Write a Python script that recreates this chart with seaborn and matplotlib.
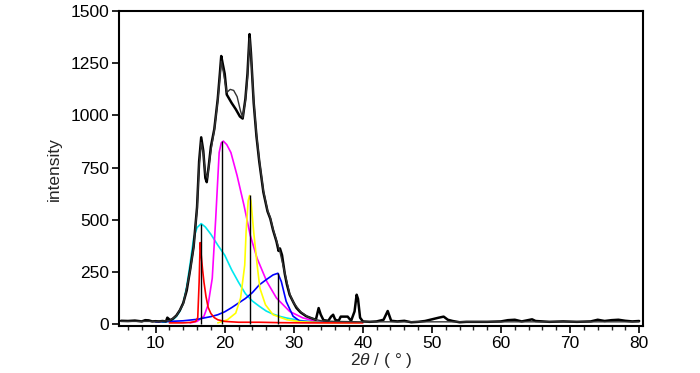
import numpy as np
import pandas as pd
import matplotlib
matplotlib.use("Agg")
import matplotlib.pyplot as plt
from matplotlib.ticker import MultipleLocator
import seaborn as sns

# -----------------------------
# DATA
# -----------------------------
obs_x = [5, 6, 7, 8, 8.5, 9, 9.5, 10, 10.5, 11, 11.5, 11.7, 12.1, 12.5, 13, 13.5, 14, 14.5,
         15, 15.5, 16, 16.3, 16.6, 16.9, 17.2, 17.4, 17.7, 18.0, 18.5, 19.0, 19.3, 19.5,
         19.7, 20.0, 20.3, 21.0, 21.6, 22.2, 22.6, 23.0, 23.3, 23.6, 23.8, 24.2, 24.6, 25.0,
         25.6, 26.2, 26.6, 27.0, 27.5, 27.8, 28.0, 28.3, 28.7, 29.0, 29.4, 30.0, 30.4, 31.0,
         31.8, 32.5, 33.2, 33.6, 33.9, 34.3, 35.0, 35.4, 35.7, 36.0, 36.5, 36.8, 37.8, 38.3,
         38.8, 39.1, 39.3, 39.6, 40, 41, 42, 43, 43.6, 44.1, 45, 46, 47, 48, 49, 50, 51,
         51.7, 52.3, 53, 54, 55, 58, 60, 61, 62, 63, 64.5, 65, 67, 69, 71, 73, 74, 75, 76,
         77, 78, 79, 80]
obs_y = [15, 14, 16, 12, 18, 17, 12, 13, 12, 14, 12, 30, 18, 25, 40, 65, 100, 160,
         260, 370, 560, 780, 895, 830, 700, 680, 760, 850, 935, 1080, 1200, 1285,
         1250, 1200, 1100, 1060, 1030, 995, 985, 1080, 1200, 1390, 1300, 1060, 900, 780,
         632, 540, 505, 450, 395, 350, 362, 330, 240, 190, 140, 100, 76, 55,
         37, 28, 20, 76, 45, 18, 15, 35, 44, 20, 15, 35, 35, 15,
         60, 140, 120, 30, 12, 10, 12, 20, 62, 15, 12, 15, 8, 10, 14, 22, 30,
         35, 20, 14, 8, 10, 10, 12, 18, 20, 12, 22, 14, 10, 12, 10, 12, 20, 14, 18,
         20, 15, 12, 14]

fit_x = [5, 10, 12, 13, 14, 15, 15.5, 16, 16.3, 16.6, 16.9, 17.2, 17.5, 18, 18.5, 19, 19.3,
         19.5, 19.8, 20.3, 20.8, 21.3, 21.8, 22.3, 22.6, 23, 23.3, 23.6, 23.8, 24.2, 24.6,
         25, 25.6, 26.2, 26.6, 27, 27.5, 28, 28.7, 29.4, 30, 31, 32, 33, 34, 36, 40, 50, 80]
fit_y = [12, 12, 15, 38, 95, 255, 365, 550, 760, 870, 820, 720, 700, 830, 930, 1070, 1180,
         1260, 1210, 1110, 1125, 1120, 1090, 1020, 990, 1070, 1180, 1370, 1290, 1070, 910,
         790, 640, 545, 510, 455, 400, 345, 245, 145, 100, 58, 35, 22, 15, 12, 10, 10, 10]

red_x = [12, 14, 15, 15.8, 16.1, 16.3, 16.45, 16.6, 16.8, 17.0, 17.3, 17.6, 18, 18.5, 19, 20,
         22, 25, 28, 32, 36, 40]
red_y = [5, 5, 7, 12, 30, 200, 390, 330, 260, 200, 130, 80, 50, 30, 20, 12, 8, 8, 6, 5, 5, 5]

cyan_x = [11, 12, 12.5, 13, 13.5, 14, 14.5, 15, 15.5, 16, 16.6, 17.2, 18, 19, 20, 21, 22, 23,
          24, 25, 26, 27, 28, 29, 30, 31, 32, 34, 36, 38]
cyan_y = [8, 12, 20, 35, 60, 100, 180, 290, 410, 462, 481, 465, 430, 378, 330, 260, 200, 145,
          110, 85, 62, 47, 36, 28, 22, 16, 12, 9, 8, 8]

magenta_x = [15, 16, 17, 17.6, 18.2, 18.7, 19.2, 19.5, 19.8, 20.3, 20.9, 21.8, 22.8, 23.7,
             24.7, 26.1, 27.5, 29.4, 31.3, 33.2, 35]
magenta_y = [5, 12, 37, 92, 219, 505, 822, 868, 877, 860, 822, 711, 568, 425,
             314, 203, 124, 60, 29, 13, 8]

yellow_x = [19, 20.4, 21.6, 22.3, 22.9, 23.1, 23.4, 23.6, 23.8, 24.2, 24.7, 25.1, 25.9, 27.0,
            29.0, 31, 35, 39.5]
yellow_y = [5, 20, 52, 124, 282, 441, 590, 616, 590, 441, 282, 171, 92, 44,
            20, 10, 6, 6]

blue_x = [10, 12, 14, 16, 18, 19, 20, 21, 22, 23, 24, 25, 26, 27, 27.7, 28.2, 28.9, 29.9,
          30.9, 33, 36, 39]
blue_y = [10, 12, 15, 22, 35, 44, 58, 78, 100, 122, 150, 187, 212, 235, 243, 203, 108, 37,
          13, 10, 9, 8]

stick_pos = [16.6, 19.6, 23.6, 27.7]
stick_height = [481, 877, 616, 243]

# -----------------------------
# STYLE
# -----------------------------
sns.set_theme(style="ticks")
plt.rcParams["font.family"] = ["Liberation Sans", "DejaVu Sans"]
plt.rcParams["mathtext.fontset"] = "custom"
plt.rcParams["mathtext.it"] = "Liberation Sans:italic"
plt.rcParams["mathtext.rm"] = "Liberation Sans"

fig = plt.figure(figsize=(7, 3.73), dpi=100)
ax = fig.add_axes([0.17, 0.126, 0.749, 0.844])

components = [
    (cyan_x, cyan_y, "#00e8f0"),
    (magenta_x, magenta_y, "#ff00ff"),
    (blue_x, blue_y, "#0000ff"),
    (yellow_x, yellow_y, "#ffff00"),
    (red_x, red_y, "#ff0000"),
]
for xs, ys, col in components:
    sns.lineplot(x=xs, y=ys, color=col, lw=1.2, sort=False, estimator=None, ax=ax)

ax.vlines(stick_pos, 0, stick_height, colors="black", lw=1.0)

sns.lineplot(x=obs_x, y=obs_y, color="black", lw=1.8, sort=False, estimator=None, ax=ax)
sns.lineplot(x=fit_x, y=fit_y, color="#333333", lw=1.0, sort=False, estimator=None, ax=ax)

ax.set_xlim(4.7, 80.6)
ax.set_ylim(-10, 1500)
ax.set_xticks([10, 20, 30, 40, 50, 60, 70, 80])
ax.set_yticks([0, 250, 500, 750, 1000, 1250, 1500])
ax.xaxis.set_minor_locator(MultipleLocator(2))
ax.tick_params(axis="both", which="major", direction="out", length=5, width=1.2,
               labelsize=12.5, colors="black", pad=2)
ax.tick_params(axis="x", which="minor", direction="out", length=3, width=1.0)
for s in ax.spines.values():
    s.set_linewidth(1.5)
    s.set_color("black")

ax.set_xlabel(r"2$\it{\theta}$ / ( ° )", fontsize=12.5, labelpad=0)
ax.set_ylabel("intensity", fontsize=12.5, labelpad=6)

fig.savefig("out.png", dpi=100)
